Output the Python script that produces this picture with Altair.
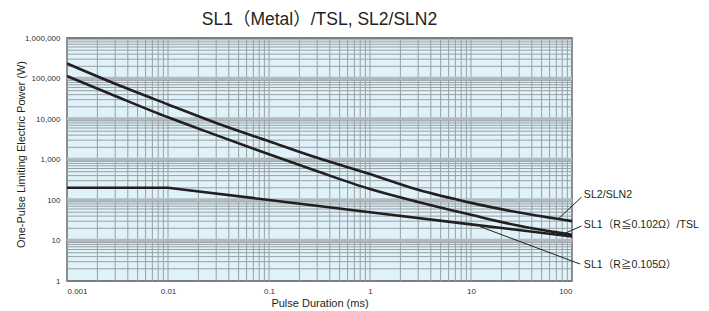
import altair as alt
import pandas as pd

# ---- data (log-log) ----
pulse_ms = [0.001, 0.003, 0.01, 0.03, 0.1, 0.3, 1, 3, 10, 30, 100]
sl2_sln2 = [234000, 74000, 22900, 8000, 2820, 1100, 437, 178, 85, 49, 30]
sl1_low_tsl = [115000, 37000, 11000, 4000, 1350, 513, 186, 89, 43, 23, 13.8]

sl1_high_ms = [0.001, 0.01, 0.1, 1, 10, 100]
sl1_high = [200, 200, 100, 50, 25, 12.6]

x_ticks = [0.001, 0.01, 0.1, 1, 10, 100]
y_ticks = [1, 10, 100, 1000, 10000, 100000, 1000000]
mults = [1, 2, 3, 4, 5, 6, 7, 8, 9]

label_text = ["SL2/SLN2", "SL1（R≦0.102Ω）/TSL", "SL1（R≧0.105Ω）"]
label_x = [131, 131, 131]
label_y = [133, 24, 2.5]

lead_x1 = [73, 85, 12.3]
lead_y1 = [34, 15, 22]
lead_x2 = [124, 124, 120]
lead_y2 = [117, 22.8, 2.63]

FONT = "Liberation Sans, Arial, Noto Sans CJK JP"
INK = "#231f20"

x_minor = [m * d for d in x_ticks[:-1] for m in mults] + [x_ticks[-1]]
y_minor = [m * d for d in y_ticks[:-1] for m in mults if m > 1]

xs = alt.Scale(type="log", domain=[0.001, 100], nice=False)
ys = alt.Scale(type="log", domain=[1, 1000000], nice=False)

curves = pd.DataFrame(
    {"t": pulse_ms * 2,
     "p": sl2_sln2 + sl1_low_tsl,
     "s": ["SL2/SLN2"] * len(pulse_ms) + ["SL1 low/TSL"] * len(pulse_ms)}
)
flat = pd.DataFrame({"t": sl1_high_ms, "p": sl1_high})

xgrid = alt.Chart(pd.DataFrame({"g": x_minor})).mark_rule(
    color="#98a0a5", strokeWidth=1
).encode(x=alt.X("g:Q", scale=xs))

ygrid = alt.Chart(pd.DataFrame({"g": y_minor})).mark_rule(
    color="#98a0a5", strokeWidth=1
).encode(y=alt.Y("g:Q", scale=ys))

ydec = alt.Chart(pd.DataFrame({"g": y_ticks[1:-1]})).mark_rule(
    color="#b2babf", strokeWidth=3.5
).encode(y=alt.Y("g:Q", scale=ys))

lines = alt.Chart(curves).mark_line(
    color=INK, strokeWidth=2.6, interpolate="monotone", clip=True
).encode(
    x=alt.X("t:Q", scale=xs,
            axis=alt.Axis(values=x_ticks, format="~g", ticks=False, domain=False,
                          grid=False, labelFontSize=8, labelFont=FONT,
                          labelColor="#333333", labelPadding=6,
                          title="Pulse Duration (ms)", titleFont=FONT,
                          titleFontSize=11, titleFontWeight="normal",
                          titleColor="#231f20", titleY=22,
                          titleBaseline="middle")),
    y=alt.Y("p:Q", scale=ys,
            axis=alt.Axis(values=y_ticks, format=",", ticks=False, domain=False,
                          grid=False, labelFontSize=8, labelFont=FONT,
                          labelColor="#333333", labelPadding=7,
                          title="One-Pulse Limiting Electric Power (W)",
                          titleFont=FONT, titleFontSize=11,
                          titleFontWeight="normal", titleColor="#231f20",
                          titleX=-46, titleY=116, titleAngle=-90,
                          titleAlign="center", titleBaseline="middle")),
    detail="s:N",
)

flat_line = alt.Chart(flat).mark_line(
    color=INK, strokeWidth=2.6, interpolate="linear", clip=True
).encode(x=alt.X("t:Q", scale=xs), y=alt.Y("p:Q", scale=ys))

ann = pd.DataFrame({"x1": lead_x1, "y1": lead_y1, "x2": lead_x2, "y2": lead_y2})
leaders = alt.Chart(ann).mark_rule(color=INK, strokeWidth=1).encode(
    x=alt.X("x1:Q", scale=xs), y=alt.Y("y1:Q", scale=ys),
    x2="x2:Q", y2="y2:Q",
)

labs = pd.DataFrame({"x": label_x, "y": label_y, "text": label_text})
labels = alt.Chart(labs).mark_text(
    align="left", baseline="middle", font=FONT, fontSize=10.6, color=INK
).encode(x=alt.X("x:Q", scale=xs), y=alt.Y("y:Q", scale=ys), text="text:N")

chart = alt.layer(xgrid, ydec, ygrid, lines, flat_line, leaders, labels).properties(
    width=505,
    height=243,
    title=alt.TitleParams(
        text="SL1（Metal）/TSL, SL2/SLN2", font=FONT, fontSize=17.5,
        fontWeight="normal", color=INK, anchor="middle", frame="group",
        baseline="middle", offset=-3,
    ),
    autosize=alt.AutoSizeParams(type="none"),
    padding={"left": 59, "top": 30, "right": 129, "bottom": 28},
).configure_view(
    fill="#dff1f9", stroke="#555555", strokeWidth=1.5
)

chart.save("out.html", embed_options={"renderer": "svg", "actions": False})
